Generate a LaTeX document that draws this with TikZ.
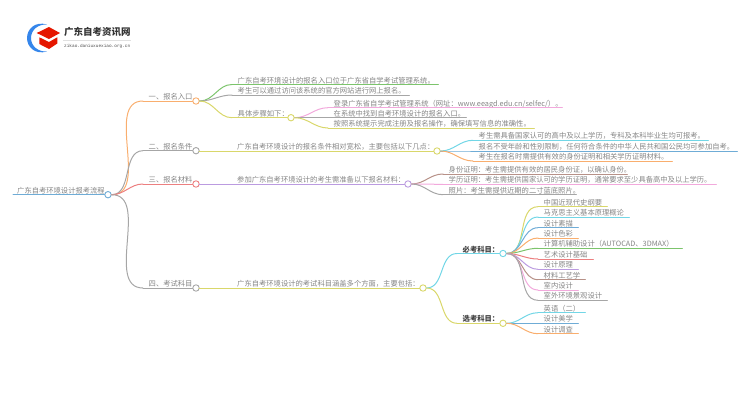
\documentclass[tikz,border=0pt]{standalone}
\usepackage{fontspec}
\setmainfont{Noto Sans CJK SC}
\newfontfamily\urlfont{Liberation Mono}
\definecolor{cGreen}{HTML}{7CC46C}
\definecolor{cGrey}{HTML}{A6A6A6}
\definecolor{cYellow}{HTML}{D9D76A}
\definecolor{cOrange}{HTML}{F9AE6E}
\definecolor{cPink}{HTML}{F2A9DC}
\definecolor{cCyan}{HTML}{72D6E6}
\definecolor{cBlue}{HTML}{6FACD6}
\definecolor{cRed}{HTML}{EC7F80}
\definecolor{cPurple}{HTML}{BB9BE0}
\definecolor{cBrown}{HTML}{B79188}
\definecolor{cText}{HTML}{858585}
\tikzset{
  leafbox/.style={anchor=south west,inner xsep=0pt,inner ysep=0.9pt,text height=6.4pt,text depth=0.3pt,align=left,font=\fontsize{7.3}{8}\selectfont,text=cText},
  boldbox/.style={leafbox,font=\fontsize{7.3}{8}\selectfont\bfseries,text=black!75},
  jdot/.style={circle,draw=#1,fill=white,line width=0.9pt,minimum size=6.4pt,inner sep=0pt},
  wire/.style={draw=#1,line width=1pt,line cap=round},
}
% name, x start, y line, x end, colour, text
\newcommand{\addleaf}[6]{%
  \pgfmathsetmacro{\leafw}{#4-#2}%
  \node[leafbox,text width=\leafw pt] (#1) at (#2,#3) {\hspace*{5.5pt}#6};
  \draw[wire=#5] (#1.south west) -- (#1.south east);
}
\newcommand{\addbold}[6]{%
  \pgfmathsetmacro{\leafw}{#4-#2}%
  \node[boldbox,text width=\leafw pt] (#1) at (#2,#3) {\hspace*{5.5pt}#6};
  \draw[wire=#5] (#1.south west) -- (#1.south east);
}
\newcommand{\link}[3]{\draw[wire=#3] (#1.east) to[out=0,in=180] (#2.south west);}
\begin{document}
\begin{tikzpicture}[x=1pt,y=-1pt]
\useasboundingbox (0,0) rectangle (750,410);
% logo
\fill[cBlue!60!blue!80!cyan] (47,24.5) .. controls (35,21) and (27,29) .. (27,38) .. controls (27,47) and (35,55) .. (47,51.5) .. controls (38,52) and (31,46) .. (31,38) .. controls (31,30) and (38,24) .. (47,24.5) -- cycle;
\fill[red!80!orange!90!black] (36.7,33) -- (49,27) -- (60,33) -- (49,39) -- cycle;
\fill[red!80!orange!90!black] (39.3,37.3) -- (49,42) -- (57.3,37.3) -- (57.3,43.5) -- (49,49) -- (39.3,44) -- cycle;
\node[anchor=west,inner sep=0pt,font=\fontsize{9.5}{10}\selectfont\bfseries,text=black!80] (logotitle) at (64,31.5) {广东自考资讯网};
\draw[black!12,line width=0.5pt] (63,40.5) -- (131,40.5);
\node[anchor=west,inner sep=0pt,font=\fontsize{4.4}{5}\urlfont,text=black!70] (logourl) at (64,46.5) {zikao.daniuxuexiao.org.cn};
% root
\addleaf{root}{13}{194.7}{108}{cBlue}{\hspace*{-1.5pt}广东自考环境设计报考流程}
\node[jdot=cBlue] (rootdot) at (108,194.7) {};
% level 1
\addleaf{a}{143}{101}{196}{cOrange}{一、报名入口}
\node[jdot=cOrange] (adot) at (196,101) {};
\addleaf{b}{143}{150.7}{196}{cGrey}{二、报名条件}
\node[jdot=cGrey] (bdot) at (196,150.7) {};
\addleaf{c}{143}{184}{196}{cRed}{三、报名材料}
\node[jdot=cRed] (cdot) at (196,184) {};
\addleaf{d}{143}{288}{196}{cGrey}{四、考试科目}
\node[jdot=cGrey] (ddot) at (196,288) {};
\link{rootdot}{a}{cOrange}
\link{rootdot}{b}{cGrey}
\link{rootdot}{c}{cRed}
\link{rootdot}{d}{cGrey}
% branch a
\addleaf{a1}{232}{84.5}{438}{cGreen}{广东自考环境设计的报名入口位于广东省自学考试管理系统。}
\addleaf{a2}{232}{95}{409}{cGrey}{考生可以通过访问该系统的官方网站进行网上报名。}
\addleaf{a3}{232}{117.7}{291}{cYellow}{具体步骤如下：}
\node[jdot=cYellow] (a3dot) at (291,117.7) {};
\link{adot}{a1}{cGreen}
\link{adot}{a2}{cGrey}
\link{adot}{a3}{cYellow}
\addleaf{a31}{328}{107.7}{562}{cPink}{登录广东省自学考试管理系统（网址：www.eeagd.edu.cn/selfec/）。}
\addleaf{a32}{328}{117.7}{466}{cGrey}{在系统中找到自考环境设计的报名入口。}
\addleaf{a33}{328}{128}{534}{cYellow}{按照系统提示完成注册及报名操作，确保填写信息的准确性。}
\link{a3dot}{a31}{cPink}
\link{a3dot}{a32}{cGrey}
\link{a3dot}{a33}{cYellow}
% branch b
\addleaf{b1}{199.2}{151}{437}{cYellow}{\hspace*{32.3pt}广东自考环境设计的报名条件相对宽松，主要包括以下几点：}
\node[jdot=cYellow] (b1dot) at (437,151) {};
\addleaf{b11}{473}{140.3}{708}{cCyan}{考生需具备国家认可的高中及以上学历，专科及本科毕业生均可报考。}
\addleaf{b12}{473}{151}{737}{cBlue}{报名不受年龄和性别限制，任何符合条件的中华人民共和国公民均可参加自考。}
\addleaf{b13}{473}{161}{672}{cOrange}{考生在报名时需提供有效的身份证明和相关学历证明材料。}
\link{b1dot}{b11}{cCyan}
\link{b1dot}{b12}{cBlue}
\link{b1dot}{b13}{cOrange}
% branch c
\addleaf{c1}{199.2}{184}{408}{cPurple}{\hspace*{32.3pt}参加广东自考环境设计的考生需准备以下报名材料：}
\node[jdot=cPurple] (c1dot) at (408,184) {};
\addleaf{c11}{443}{174}{627}{cBrown}{身份证明：考生需提供有效的居民身份证，以确认身份。}
\addleaf{c12}{443}{184.3}{716}{cPink}{学历证明：考生需提供国家认可的学历证明，通常要求至少具备高中及以上学历。}
\addleaf{c13}{443}{194.7}{576}{cGrey}{照片：考生需提供近期的二寸蓝底照片。}
\link{c1dot}{c11}{cBrown}
\link{c1dot}{c12}{cPink}
\link{c1dot}{c13}{cGrey}
% branch d
\addleaf{d1}{199.2}{288}{423}{cYellow}{\hspace*{32.3pt}广东自考环境设计的考试科目涵盖多个方面，主要包括：}
\node[jdot=cYellow] (d1dot) at (423,288) {};
\addbold{m}{457}{253.5}{503}{cCyan}{必考科目：}
\node[jdot=cCyan] (mdot) at (503,253.5) {};
\addbold{e}{457}{323.3}{503}{cYellow}{选考科目：}
\node[jdot=cYellow] (edot) at (503,323.3) {};
\link{d1dot}{m}{cCyan}
\link{d1dot}{e}{cYellow}
% required
\addleaf{m1}{538}{206.7}{607}{cYellow}{中国近现代史纲要}
\addleaf{m2}{538}{217}{629}{cCyan}{马克思主义基本原理概论}
\addleaf{m3}{538}{227.7}{578}{cBlue}{设计素描}
\addleaf{m4}{538}{238}{578}{cOrange}{设计色彩}
\addleaf{m5}{538}{248.3}{682}{cGreen}{计算机辅助设计（AUTOCAD、3DMAX）}
\addleaf{m6}{538}{259}{593}{cRed}{艺术设计基础}
\addleaf{m7}{538}{269.3}{578}{cPurple}{设计原理}
\addleaf{m8}{538}{279.7}{585}{cBrown}{材料工艺学}
\addleaf{m9}{538}{290}{578}{cPink}{室内设计}
\addleaf{m10}{538}{300.3}{607}{cGrey}{室外环境景观设计}
\link{mdot}{m1}{cYellow}
\link{mdot}{m2}{cCyan}
\link{mdot}{m3}{cBlue}
\link{mdot}{m4}{cOrange}
\link{mdot}{m5}{cGreen}
\link{mdot}{m6}{cRed}
\link{mdot}{m7}{cPurple}
\link{mdot}{m8}{cBrown}
\link{mdot}{m9}{cPink}
\link{mdot}{m10}{cGrey}
% elective
\addleaf{e1}{538}{312.7}{585}{cCyan}{英语（二）}
\addleaf{e2}{538}{323.3}{578}{cBlue}{设计美学}
\addleaf{e3}{538}{333.7}{578}{cOrange}{设计调查}
\link{edot}{e1}{cCyan}
\link{edot}{e2}{cBlue}
\link{edot}{e3}{cOrange}
\end{tikzpicture}
\end{document}
